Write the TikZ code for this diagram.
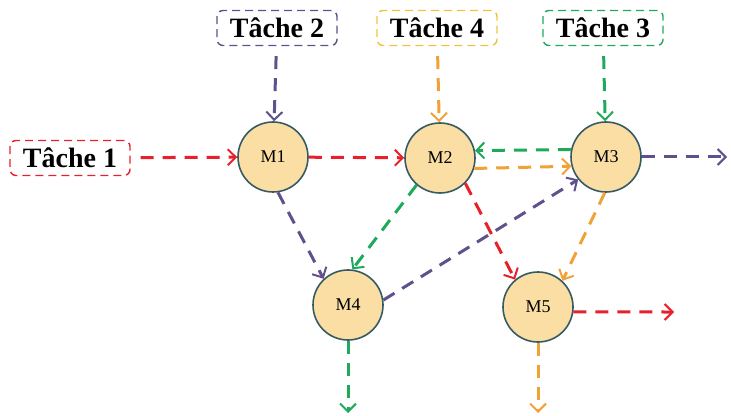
\documentclass[tikz,border=0pt]{standalone}
\usepackage{fontspec}
\setmainfont{Liberation Serif}
\usetikzlibrary{arrows.meta}
\definecolor{fred}{RGB}{232,32,44}
\definecolor{fpurple}{RGB}{96,80,140}
\definecolor{forange}{RGB}{240,162,54}
\definecolor{fyellow}{RGB}{236,196,60}
\definecolor{fgreen}{RGB}{30,170,90}
\definecolor{mfill}{RGB}{250,222,164}
\definecolor{mdraw}{RGB}{52,90,100}

\begin{document}
\begin{tikzpicture}[x=0.5pt, y=-0.5pt,
        mach/.style={draw=mdraw, fill=mfill, circle, line width=0.8pt, minimum size=35pt, inner sep=0pt, font=\fontsize{9}{10}\selectfont},
        tache/.style={draw, rounded corners=3pt, line width=0.7pt, dash pattern=on 4pt off 2.5pt, minimum width=60pt, minimum height=17.5pt, inner sep=1pt, font=\fontsize{14}{16}\selectfont\bfseries},
        flow/.style={line width=1.5pt, dash pattern=on 6.5pt off 4.5pt, -{Straight Barb[length=4pt,width=8pt,line width=1pt]}}
    ]
        \useasboundingbox (0,0) rectangle (731,416);

        \node[tache, draw=fred] (t1) at (70,158) {Tâche 1};
        \node[tache, draw=fpurple] (t2) at (277,28) {Tâche 2};
        \node[tache, draw=fyellow] (t4) at (437,28) {Tâche 4};
        \node[tache, draw=fgreen] (t3) at (603,28) {Tâche 3};

        \node[mach] (m1) at (273,157) {M1};
        \node[mach] (m2) at (440,158) {M2};
        \node[mach] (m3) at (606,157) {M3};
        \node[mach] (m4) at (348,305) {M4};
        \node[mach] (m5) at (538,307) {M5};

        \coordinate (o3) at (727,157);
        \coordinate (o5) at (674,312);
        \coordinate (o4) at (348,413);
        \coordinate (o55) at (538,413);

        \draw[flow, fred, shorten <=5pt] (t1) -- (m1);
        \draw[flow, fpurple, shorten <=5pt] (t2) -- (m1);
        \draw[flow, forange, shorten <=5pt] (t4) -- (m2);
        \draw[flow, fgreen, shorten <=5pt] (t3) -- (m3);

        \draw[flow, fred] (m1) -- (m2);
        \draw[flow, fgreen] (m3.168) -- (m2.12);
        \draw[flow, forange] (m2.-17) -- (m3.195);
        \draw[flow, fpurple] (m3) -- (o3);

        \draw[flow, fpurple] (m1.-82) -- (m4.133);
        \draw[flow, fgreen] (m2.229) -- (m4.83);
        \draw[flow, fred] (m2.-45) -- (m5.130);
        \draw[flow, fpurple] (m4.8) -- (m3.219);
        \draw[flow, forange] (m3.-92) -- (m5.47);

        \draw[flow, fred] (m5.-8) -- (o5);
        \draw[flow, fgreen] (m4) -- (o4);
        \draw[flow, forange] (m5) -- (o55);
    \end{tikzpicture}
\end{document}
